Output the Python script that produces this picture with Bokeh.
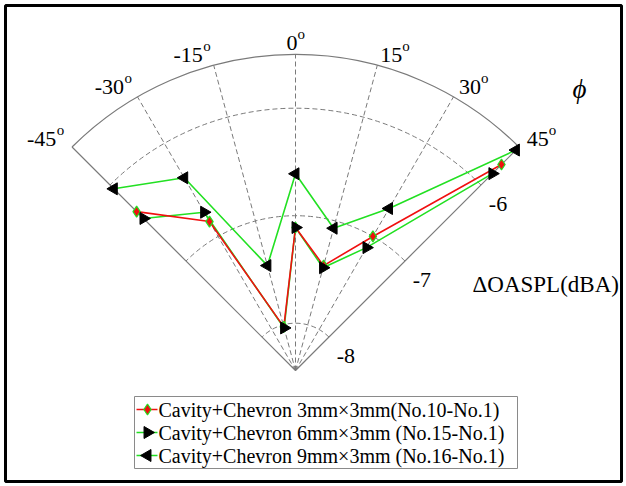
import numpy as np
from bokeh.plotting import figure
from bokeh.models import ColumnDataSource, Range1d
from bokeh.core.properties import value, field
from bokeh.embed import file_html
from bokeh.resources import INLINE

# Azimuthal angle phi (deg) and noise reduction ΔOASPL (dBA) for each configuration
phi_deg = [-45, -30, -15, 0, 15, 30, 45]
d_cav_3x3 = [-6.35, -6.84, -8.02, -7.11, -7.43, -7.00, -5.73]
d_cav_6x3 = [-6.44, -6.74, -8.03, -7.11, -7.45, -7.12, -5.85]
d_cav_9x3 = [-6.05, -6.37, -7.43, -6.61, -7.07, -6.70, -5.54]

series_labels = [
    "Cavity+Chevron 3mm\u00d73mm(No.10-No.1)",
    "Cavity+Chevron 6mm\u00d73mm (No.15-No.1)",
    "Cavity+Chevron 9mm\u00d73mm (No.16-No.1)",
]

angle_ticks = [-45, -30, -15, 0, 15, 30, 45]
radial_ticks = [-8, -7, -6]
r_min, r_max = -8.44, -5.5
radial_title = "\u0394OASPL(dBA)"
angle_title = "\u03d5"

W, H = 626, 486
BORDER = 5
PX = 1 / 107.5          # data units per screen pixel (equal on both axes)
CX, CY = 290, 365       # pole position inside the frame, px from top-left
FW, FH = W - 2 * BORDER, H - 2 * BORDER

SERIF = value("Liberation Serif")
GREEN = "#22e022"
RED = "#f01010"
GRID = "#7a7a7a"


def polar(theta_deg, v):
    rho = np.asarray(v, dtype=float) - r_min
    t = np.radians(np.asarray(theta_deg, dtype=float))
    return rho * np.sin(t), rho * np.cos(t)


def at_px(px, py):
    """Page pixel position -> data coordinates."""
    return (px - BORDER - CX) * PX, (CY - (py - BORDER)) * PX


p = figure(width=W, height=H, output_backend="svg", toolbar_location=None,
           x_range=Range1d(-CX * PX, (FW - CX) * PX),
           y_range=Range1d(-(FH - CY) * PX, CY * PX),
           x_axis_location=None, y_axis_location=None,
           min_border=BORDER, min_border_left=BORDER, min_border_right=BORDER,
           min_border_top=BORDER, min_border_bottom=BORDER)
p.grid.visible = False
p.outline_line_color = "black"
p.outline_line_width = 3
p.background_fill_color = "white"
p.border_fill_color = "white"

# ---- polar grid -------------------------------------------------------
R = r_max - r_min
a_lo, a_hi = np.radians(90 - 45), np.radians(90 + 45)
p.arc(x=0, y=0, radius=R, start_angle=a_lo, end_angle=a_hi,
      line_color=GRID, line_width=1.2)
for rt in radial_ticks:
    p.arc(x=0, y=0, radius=rt - r_min, start_angle=a_lo, end_angle=a_hi,
          line_color=GRID, line_width=1, line_dash="5 3")

inner = [a for a in angle_ticks if abs(a) < 45]
edges = [a for a in angle_ticks if abs(a) == 45]
ix, iy = polar(inner, [r_max] * len(inner))
p.segment(x0=0, y0=0, x1=ix, y1=iy, line_color=GRID, line_width=1, line_dash="5 3")
ex, ey = polar(edges, [r_max] * len(edges))
p.segment(x0=0, y0=0, x1=ex, y1=ey, line_color=GRID, line_width=1.2)

# ---- angular tick labels (number + superscript o) --------------------
num_x, num_y, num_t, num_al = [], [], [], []
sup_x, sup_y, sup_al = [], [], []
for a in angle_ticks:
    ax, ay = polar([a], [r_max + 11 * PX])
    ax, ay = float(ax[0]), float(ay[0])
    s = str(a)
    if a < 0:
        num_x.append(ax - 8 * PX); num_al.append("right")
        sup_x.append(ax); sup_al.append("right")
    elif a > 0:
        num_x.append(ax); num_al.append("left")
        sup_x.append(ax + 11 * len(s) * PX); sup_al.append("left")
    else:
        num_x.append(ax + 2 * PX); num_al.append("right")
        sup_x.append(ax + 2 * PX); sup_al.append("left")
    num_y.append(ay); num_t.append(s)
    sup_y.append(ay + 9 * PX)

p.text(source=ColumnDataSource(dict(x=num_x, y=num_y, t=num_t, al=num_al)),
       x="x", y="y", text="t", text_align=field("al"), text_baseline="alphabetic",
       text_font=SERIF, text_font_size="22px", text_color="black")
p.text(source=ColumnDataSource(dict(x=sup_x, y=sup_y, t=["o"] * len(sup_x), al=sup_al)),
       x="x", y="y", text="t", text_align=field("al"), text_baseline="alphabetic",
       text_font=SERIF, text_font_size="15px", text_color="black")

# ---- radial tick labels along the +45 deg edge ------------------------
rx, ry = polar([45] * len(radial_ticks), radial_ticks)
p.text(x=rx + 17 * PX, y=ry - 19 * PX, text=[str(v) for v in radial_ticks],
       text_align="center", text_baseline="middle",
       text_font=SERIF, text_font_size="22px", text_color="black")

# axis titles
tx, ty = at_px(472, 284)
p.text(x=[tx], y=[ty], text=[radial_title], text_align="left", text_baseline="alphabetic",
       text_font=SERIF, text_font_size="23px", text_color="black")
fx, fy = at_px(579, 88)
p.text(x=[fx], y=[fy], text=[angle_title], text_align="center", text_baseline="middle",
       text_font=SERIF, text_font_size="27px", text_font_style="italic", text_color="black")

# ---- data -------------------------------------------------------------
x3, y3 = polar(phi_deg, d_cav_3x3)
x6, y6 = polar(phi_deg, d_cav_6x3)
x9, y9 = polar(phi_deg, d_cav_9x3)

DIAMOND = dict(marker="diamond", size=11, fill_color=RED, line_color=GREEN, line_width=1.2)
TRI_R = dict(marker="triangle", size=12, angle=-np.pi / 2, fill_color="black", line_color="black")
TRI_L = dict(marker="triangle", size=12, angle=np.pi / 2, fill_color="black", line_color="black")

p.line(x9, y9, line_color=GREEN, line_width=1.6)
p.line(x6, y6, line_color=GREEN, line_width=1.6)
p.line(x3, y3, line_color=RED, line_width=1.6)
p.scatter(x3, y3, **DIAMOND)
p.scatter(x6, y6, **TRI_R)
p.scatter(x9, y9, **TRI_L)

# ---- legend box (drawn by hand so the rotated markers show) -----------
lx0, ly0 = at_px(134, 396)
lx1, ly1 = at_px(517, 468)
p.quad(left=[lx0], right=[lx1], top=[ly0], bottom=[ly1],
       fill_color="white", line_color="#8a8a8a", line_width=1)

row_y = [at_px(0, 409)[1], at_px(0, 432)[1], at_px(0, 455)[1]]
gx0, _ = at_px(136, 0)
gx1, _ = at_px(157, 0)
gm, _ = at_px(147, 0)
lt, _ = at_px(158, 0)
styles = [(RED, DIAMOND), (GREEN, TRI_R), (GREEN, TRI_L)]
for yy, (lc, mk) in zip(row_y, styles):
    p.line([gx0, gx1], [yy, yy], line_color=lc, line_width=1.6)
    p.scatter([gm], [yy], **mk)
p.text(x=[lt] * 3, y=row_y, text=series_labels, text_align="left", text_baseline="middle",
       text_font=SERIF, text_font_size="20px", text_color="black")

open("out.html", "w").write(file_html(p, INLINE))
